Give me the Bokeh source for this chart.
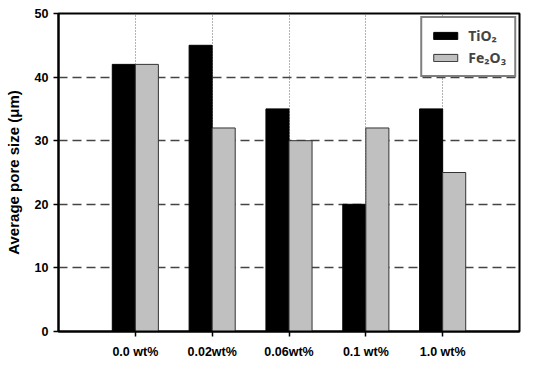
import numpy as np
from bokeh.plotting import figure
from bokeh.models import Range1d, FixedTicker, Legend, LegendItem, ColumnDataSource
from bokeh.embed import file_html
from bokeh.resources import INLINE

categories = ["0.0 wt%", "0.02wt%", "0.06wt%", "0.1 wt%", "1.0 wt%"]
tio2 = [42, 45, 35, 20, 35]
fe2o3 = [42, 32, 30, 32, 25]
series_names = ["TiO\u2082", "Fe\u2082O\u2083"]
y_ticks = [0, 10, 20, 30, 40, 50]

pos = np.arange(1, len(categories) + 1)
bw = 0.30

p = figure(width=534, height=365, output_backend="svg", toolbar_location=None,
           x_range=Range1d(0, len(categories) + 1), y_range=Range1d(0, 50),
           min_border_left=58, min_border_right=15, min_border_top=13, min_border_bottom=34)

src = ColumnDataSource(dict(x1=pos - bw / 2, x2=pos + bw / 2, t=tio2, f=fe2o3))
r1 = p.vbar(x="x1", top="t", width=bw, source=src, fill_color="black", line_color="black", line_width=1)
r2 = p.vbar(x="x2", top="f", width=bw, source=src, fill_color="#c0c0c0", line_color="#333333", line_width=1)

p.xaxis.ticker = FixedTicker(ticks=list(pos))
p.xaxis.major_label_overrides = {int(i): c for i, c in zip(pos, categories)}
p.yaxis.ticker = FixedTicker(ticks=y_ticks)

for ax in (p.xaxis[0], p.yaxis[0]):
    ax.axis_line_color = "black"
    ax.axis_line_width = 2
    ax.major_tick_line_color = "black"
    ax.major_tick_line_width = 1.5
    ax.minor_tick_line_color = None
    ax.major_label_text_font = "Liberation Sans"
    ax.major_label_text_font_style = "bold"
    ax.major_label_text_font_size = "12.5px"
    ax.major_label_text_color = "black"

p.xaxis.major_tick_out = 5
p.xaxis.major_tick_in = 0
p.xaxis.major_label_standoff = 8
p.yaxis.major_tick_out = 5
p.yaxis.major_tick_in = 0
p.yaxis.major_label_standoff = 5

p.yaxis.axis_label = "Average pore size (\u03bcm)"
p.yaxis.axis_label_text_font = "Liberation Sans"
p.yaxis.axis_label_text_font_style = "bold"
p.yaxis.axis_label_text_font_size = "15px"
p.yaxis.axis_label_text_color = "black"
p.yaxis.axis_label_standoff = 10

p.xgrid.grid_line_color = "#666666"
p.xgrid.grid_line_dash = "1 2"
p.xgrid.grid_line_width = 1
p.ygrid.grid_line_color = "#444444"
p.ygrid.grid_line_dash = "9 5"
p.ygrid.grid_line_width = 1.3

p.outline_line_color = "black"
p.outline_line_width = 2
p.outline_line_alpha = 1

legend = Legend(items=[LegendItem(label=series_names[0], renderers=[r1]),
                       LegendItem(label=series_names[1], renderers=[r2])],
                location="top_right")
legend.border_line_color = "black"
legend.border_line_width = 2
legend.label_text_font = "Noto Sans"
legend.label_text_font_style = "bold"
legend.label_text_font_size = "14px"
legend.glyph_width = 30
legend.glyph_height = 9
legend.label_height = 16
legend.spacing = 3
legend.padding = 8
legend.margin = 3
legend.label_standoff = 8
legend.background_fill_alpha = 1
p.add_layout(legend)

open("out.html", "w").write(file_html(p, INLINE))
